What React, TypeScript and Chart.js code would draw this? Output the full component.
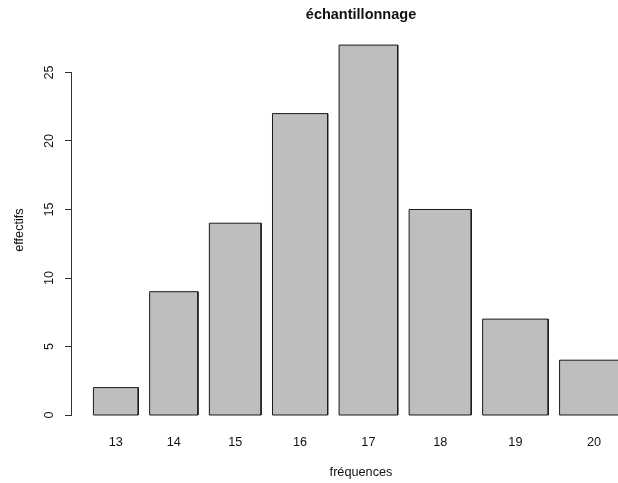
import React, { useEffect, useRef } from "react";
import { Chart, registerables } from "chart.js";

Chart.register(...registerables);

// ---- data ----
const freqLabels = ["13", "14", "15", "16", "17", "18", "19", "20"];
const effectifs = [2, 9, 14, 22, 27, 15, 7, 4];
const barWidths = [13, 14, 15, 16, 17, 18, 19, 20];
const yTickValues = [0, 5, 10, 15, 20, 25];
const barSpace = 0.2;

const FONT = "'Liberation Sans', Arial, Helvetica, sans-serif";

export default function App() {
  const canvasRef = useRef<HTMLCanvasElement | null>(null);

  useEffect(() => {
    if (!canvasRef.current) return;
    const meanW = barWidths.reduce((a, b) => a + b, 0) / barWidths.length;
    const gap = barSpace * meanW;
    const lefts: number[] = [];
    const rights: number[] = [];
    let cursor = 0;
    barWidths.forEach((w) => {
      cursor += gap;
      lefts.push(cursor);
      cursor += w;
      rights.push(cursor);
    });
    const centers = lefts.map((l, i) => (l + rights[i]) / 2);
    const xRange = rights[rights.length - 1] - lefts[0];
    const xMin = lefts[0] - 0.04 * xRange;
    const xMax = rights[rights.length - 1] + 0.04 * xRange;
    const yMaxVal = Math.max(...effectifs);
    const yMin = -0.04 * yMaxVal;
    const yMax = yMaxVal * 1.04;

    const datasets = effectifs.map((h, i) => ({
      data: [
        { x: lefts[i], y: 0 },
        { x: lefts[i], y: h },
        { x: rights[i], y: h },
        { x: rights[i], y: 0 },
        { x: lefts[i], y: 0 },
      ],
      fill: "shape",
      backgroundColor: "#bebebe",
      borderColor: "#1a1a1a",
      borderWidth: 1,
      pointRadius: 0,
      pointHoverRadius: 0,
      tension: 0,
      borderJoinStyle: "miter",
    }));

    const axisLinePlugin = {
      id: "rAxisLine",
      afterDraw(chart: any) {
        const ys = chart.scales.y;
        const ctx = chart.ctx;
        const x = Math.round(chart.chartArea.left) - 0.5;
        const y0 = Math.round(ys.getPixelForValue(yTickValues[0])) + 0.5;
        const y1 = Math.round(ys.getPixelForValue(yTickValues[yTickValues.length - 1])) + 0.5;
        ctx.save();
        ctx.strokeStyle = "#333";
        ctx.lineWidth = 1;
        ctx.beginPath();
        ctx.moveTo(x, y0);
        ctx.lineTo(x, y1);
        ctx.stroke();
        ctx.restore();
      },
    };

    const chart = new Chart(canvasRef.current, {
      type: "line",
      data: { datasets: datasets as any },
      plugins: [axisLinePlugin],
      options: {
        animation: false,
        responsive: false,
        layout: { padding: 0 },
        plugins: {
          legend: { display: false },
          tooltip: { enabled: false },
          title: {
            display: true,
            text: "échantillonnage",
            color: "#111",
            font: { family: FONT, size: 14.5, weight: "bold" },
            padding: { top: 6.1, bottom: 6.8 },
          },
        },
        scales: {
          x: {
            type: "linear",
            min: xMin,
            max: xMax,
            afterBuildTicks: (s: any) => {
              s.ticks = centers.map((v) => ({ value: v }));
            },
            afterFit: (s: any) => {
              s.height = 53.2;
            },
            grid: { display: false, drawTicks: false },
            border: { display: false },
            ticks: {
              autoSkip: false,
              maxRotation: 0,
              minRotation: 0,
              padding: 5.2,
              color: "#111",
              font: { family: FONT, size: 12.7 },
              callback: (_v: any, i: number) => freqLabels[i],
            },
            title: {
              display: true,
              text: "fréquences",
              color: "#111",
              font: { family: FONT, size: 12.7 },
              padding: { top: 0, bottom: 2.6 },
            },
          },
          y: {
            type: "linear",
            position: "left",
            min: yMin,
            max: yMax,
            afterBuildTicks: (s: any) => {
              s.ticks = yTickValues.map((v) => ({ value: v }));
            },
            afterFit: (s: any) => {
              s.width = 72;
            },
            grid: {
              display: true,
              drawOnChartArea: false,
              drawTicks: true,
              tickLength: 7,
              color: "#333",
              lineWidth: 1,
            },
            border: { display: false },
            ticks: {
              minRotation: 90,
              maxRotation: 90,
              crossAlign: "center",
              padding: 8.5,
              color: "#111",
              font: { family: FONT, size: 12.7 },
              callback: (v: any) => String(v),
            },
            title: {
              display: true,
              text: "effectifs",
              color: "#111",
              font: { family: FONT, size: 12.7 },
              padding: { top: 11.8, bottom: 0 },
            },
          },
          y2: {
            type: "linear",
            position: "right",
            display: true,
            afterFit: (s: any) => {
              s.width = 72;
            },
            grid: { display: false, drawTicks: false },
            border: { display: false },
            ticks: { display: false },
          },
        },
      } as any,
    });
    return () => chart.destroy();
  }, []);

  return (
    <div
      style={{
        position: "fixed",
        left: 0,
        top: 0,
        width: 618,
        height: 483,
        overflow: "hidden",
        background: "#fff",
      }}
    >
      <canvas ref={canvasRef} width={722} height={483} style={{ display: "block" }} />
    </div>
  );
}
